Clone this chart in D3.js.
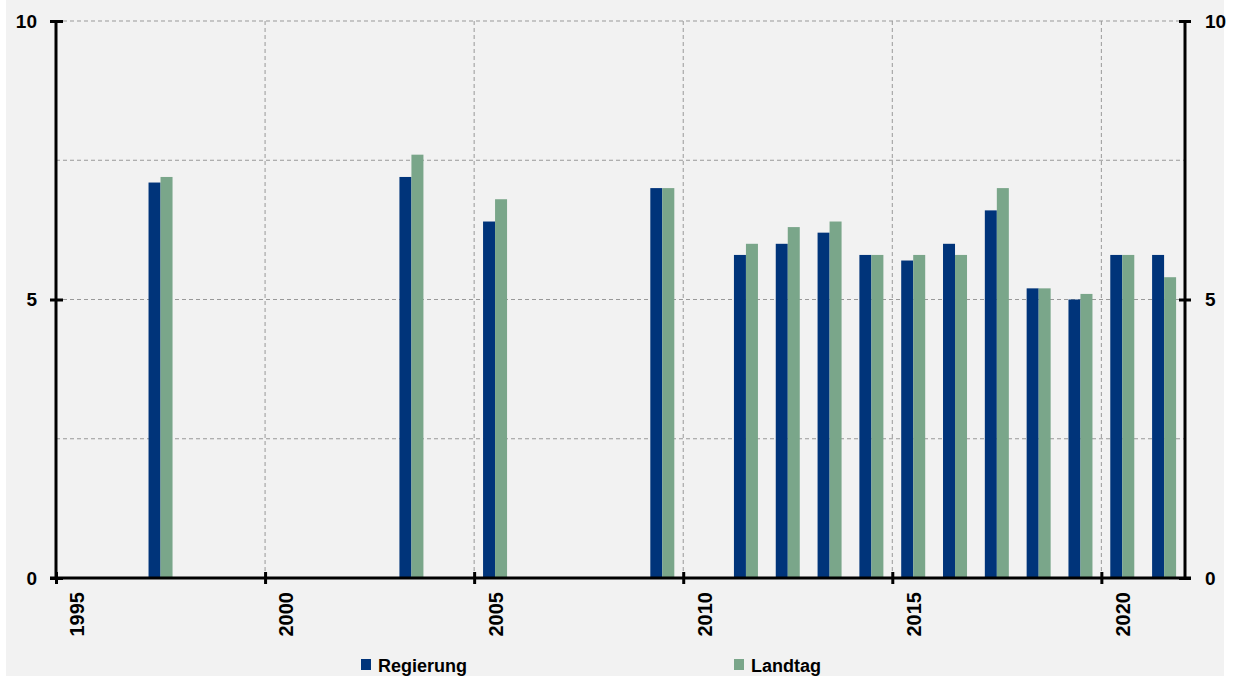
<!DOCTYPE html>
<html><head><meta charset="utf-8">
<script src="https://cdn.jsdelivr.net/npm/d3@7"></script>
<style>body{margin:0;background:#fff;}svg{display:block;font-family:"Liberation Sans",Arial,sans-serif;}</style>
</head><body>
<svg id="c" width="1237" height="678"></svg>
<script>
const years = [1997, 2003, 2005, 2009, 2011, 2012, 2013, 2014, 2015, 2016, 2017, 2018, 2019, 2020, 2021];
const regierung = [7.1, 7.2, 6.4, 7.0, 5.8, 6.0, 6.2, 5.8, 5.7, 6.0, 6.6, 5.2, 5.0, 5.8, 5.8];
const landtag   = [7.2, 7.6, 6.8, 7.0, 6.0, 6.3, 6.4, 5.8, 5.8, 5.8, 7.0, 5.2, 5.1, 5.8, 5.4];
const xTicks = [1995, 2000, 2005, 2010, 2015, 2020];
const yTicks = [0, 5, 10];
const yGrid = [2.5, 5, 7.5, 10];
const seriesNames = ["Regierung", "Landtag"];
const colors = ["#00347a", "#7aa68a"];

const svg = d3.select("#c");
svg.append("rect").attr("x",6).attr("y",0).attr("width",1218).attr("height",676).attr("fill","#f2f2f2");

const x = d3.scaleLinear().domain([1995, 2022]).range([56, 1185]);
const y = d3.scaleLinear().domain([0, 10]).range([578, 21]);

// grid
svg.append("g").selectAll("line").data(yGrid).join("line")
  .attr("x1", 56).attr("x2", 1185).attr("y1", d=>y(d)).attr("y2", d=>y(d))
  .attr("stroke","#999").attr("stroke-width",1).attr("stroke-dasharray","4,3");
svg.append("g").selectAll("line").data(xTicks.filter(d=>d>1995)).join("line")
  .attr("x1", d=>x(d)).attr("x2", d=>x(d)).attr("y1", y(0)).attr("y2", y(10))
  .attr("stroke","#999").attr("stroke-width",1).attr("stroke-dasharray","4,3");

// bars
const bw = 12;
const data = years.map((yr,i)=>({yr, v:[regierung[i], landtag[i]]}));
seriesNames.forEach((s, k) => {
  svg.append("g").selectAll("rect").data(data).join("rect")
    .attr("x", d => x(d.yr + 0.5) - bw + k*bw)
    .attr("y", d => y(d.v[k]))
    .attr("width", bw)
    .attr("height", d => y(0) - y(d.v[k]))
    .attr("fill", colors[k]);
});

// axes
const axStyle = (g, fs) => {
  g.selectAll(".domain").remove();
  g.selectAll(".tick line").attr("stroke","#000").attr("stroke-width",3);
  g.selectAll(".tick text").attr("fill","#000").attr("font-weight","bold").attr("font-size",fs).attr("font-family","'Liberation Sans', Arial, sans-serif");
};
const la = svg.append("g").attr("transform","translate(56,0)")
  .call(d3.axisLeft(y).tickValues(yTicks).tickSize(6).tickPadding(13).tickFormat(d3.format("d")));
axStyle(la, "19px");
la.selectAll(".tick line").attr("x1",7);
const ra = svg.append("g").attr("transform","translate(1185,0)")
  .call(d3.axisRight(y).tickValues(yTicks).tickSize(6).tickPadding(14).tickFormat(d3.format("d")));
axStyle(ra, "19px");
ra.selectAll(".tick line").attr("x1",-6);
const xa = svg.append("g").attr("transform",`translate(0,${y(0)})`)
  .call(d3.axisBottom(x).tickValues(xTicks).tickSize(6).tickFormat(d3.format("d")));
axStyle(xa, "20px");
xa.selectAll(".tick line").attr("y1",-6);
xa.selectAll(".tick text")
  .attr("transform", d => `translate(${x(d + 0.5) - x(d)},0) rotate(-90)`)
  .attr("text-anchor","end")
  .attr("x",-14).attr("y",0).attr("dy","0.35em");

svg.append("line").attr("x1",56).attr("x2",56).attr("y1",y(10)).attr("y2",y(0)).attr("stroke","#000").attr("stroke-width",3);
svg.append("line").attr("x1",1185).attr("x2",1185).attr("y1",y(10)).attr("y2",y(0)).attr("stroke","#000").attr("stroke-width",3);
svg.append("line").attr("x1",50).attr("x2",1191).attr("y1",y(0)).attr("y2",y(0)).attr("stroke","#000").attr("stroke-width",3);

// legend
const legX = [361, 734];
const lg = svg.append("g").selectAll("g").data(seriesNames).join("g")
  .attr("transform",(d,i)=>`translate(${legX[i]},659)`);
lg.append("rect").attr("width",10).attr("height",11).attr("fill",(d,i)=>colors[i]);
lg.append("text").attr("x",17).attr("y",13).attr("font-size","18px").attr("font-weight","bold").text(d=>d);
</script>
</body></html>
